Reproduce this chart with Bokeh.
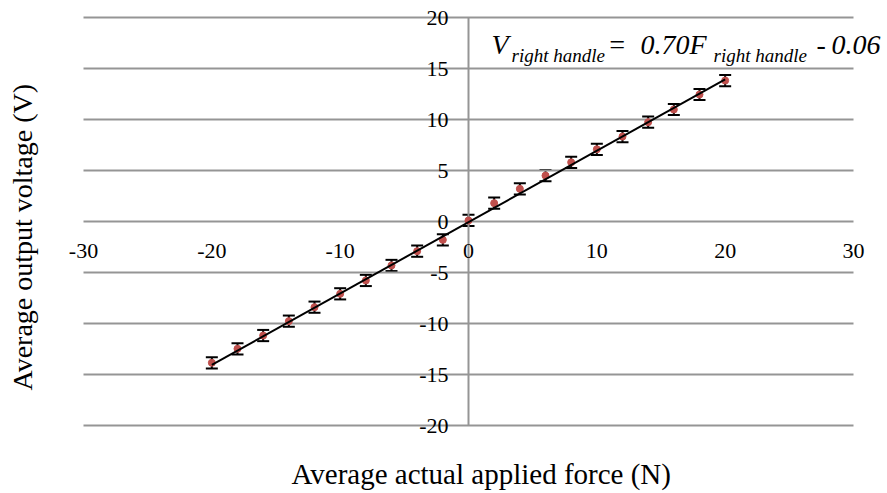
from bokeh.plotting import figure
from bokeh.models import (Range1d, ColumnDataSource, Whisker, TeeHead, Label)
from bokeh.core.properties import value
from bokeh.embed import file_html
from bokeh.resources import INLINE

# ---- data ----
forces = [-20, -18, -16, -14, -12, -10, -8, -6, -4, -2, 0,
          2, 4, 6, 8, 10, 12, 14, 16, 18, 20]
voltages = [-13.85, -12.48, -11.18, -9.77, -8.40, -7.09, -5.78, -4.31, -2.91, -1.80, 0.10,
            1.80, 3.20, 4.50, 5.80, 7.08, 8.33, 9.74, 10.98, 12.45, 13.82]
errors = [0.55, 0.55, 0.55, 0.55, 0.55, 0.55, 0.55, 0.55, 0.55, 0.55, 0.55,
          0.55, 0.55, 0.55, 0.55, 0.55, 0.55, 0.55, 0.55, 0.55, 0.55]
fit_slope = 0.70
fit_intercept = -0.06
fit_x = [-20, 20]
x_ticks = [-30, -20, -10, 0, 10, 20, 30]
x_tick_labels = ["-30", "-20", "-10", "0", "10", "20", "30"]
y_ticks = [-20, -15, -10, -5, 0, 5, 10, 15, 20]
y_tick_labels = ["-20", "-15", "-10", "-5", "0", "5", "10", "15", "20"]
x_title = "Average actual  applied force (N)"
y_title = "Average output voltage (V)"

FONT = "Liberation Serif"
GRID = "#959595"

W, H = 884, 492
X0, Y0 = 468.0, 221.0          # pixel position of the origin
SX, SY = 770.0 / 60.0, 10.2     # pixels per unit


def dx(px):
    return (px - X0) / SX


def dy(py):
    return (Y0 - py) / SY


p = figure(width=W, height=H, output_backend="svg", toolbar_location=None,
           x_range=Range1d(dx(0), dx(W)), y_range=Range1d(dy(H), dy(0)),
           x_axis_location=None, y_axis_location=None,
           min_border_left=0, min_border_right=0, min_border_top=0, min_border_bottom=0)
p.outline_line_color = None
p.background_fill_color = "white"
p.border_fill_color = "white"
p.xgrid.visible = False
p.ygrid.visible = False

# horizontal gridlines spanning the x extent of the chart
n_y = len(y_ticks)
p.segment(x0=[x_ticks[0]] * n_y, x1=[x_ticks[-1]] * n_y, y0=y_ticks, y1=y_ticks,
          line_color=GRID, line_width=2)
# vertical axis line at x = 0 spanning the y extent
p.segment(x0=[0], x1=[0], y0=[y_ticks[0]], y1=[y_ticks[-1]],
          line_color=GRID, line_width=2)

# tick labels
p.text(x=x_ticks, y=[0] * len(x_ticks), text=x_tick_labels,
       text_font=value(FONT), text_font_size="22px", text_color="black",
       text_align="center", text_baseline="middle", y_offset=29.5)
p.text(x=[0] * len(y_ticks), y=y_ticks, text=y_tick_labels,
       text_font=value(FONT), text_font_size="22px", text_color="black",
       text_align="right", text_baseline="middle", x_offset=-20)

src = ColumnDataSource(dict(
    x=forces, y=voltages,
    upper=[v + e for v, e in zip(voltages, errors)],
    lower=[v - e for v, e in zip(voltages, errors)],
))

p.scatter("x", "y", source=src, size=7, fill_color="#C0504D", line_color="#C0504D")

wh = Whisker(base="x", upper="upper", lower="lower", source=src,
             line_color="black", line_width=2,
             upper_head=TeeHead(size=12, line_color="black", line_width=2),
             lower_head=TeeHead(size=12, line_color="black", line_width=2))
p.add_layout(wh)

fit_y = [fit_slope * xv + fit_intercept for xv in fit_x]
ln = p.line(fit_x, fit_y, line_color="black", line_width=2)
ln.level = "overlay"

# axis titles (anchored at the vertical middle of the text)
p.add_layout(Label(x=dx(291), y=dy(473.5), text=x_title, text_font=FONT,
                   text_font_size="29px", text_color="black",
                   text_align="left", text_baseline="middle"))
p.add_layout(Label(x=dx(22), y=dy(390), text=y_title, text_font=FONT,
                   text_font_size="28px", text_color="black", angle=1.5708,
                   text_align="left", text_baseline="middle"))

# equation of the trend line (x, vertical middle, size)
pieces = [
    ("V", 491, 44.0, "28px"),
    ("right handle", 511, 55.4, "19px"),
    ("=", 607, 44.0, "28px"),
    ("0.70F", 640, 44.0, "28px"),
    ("right handle", 713, 55.4, "19px"),
    ("-", 816, 44.0, "28px"),
    ("0.06", 831, 44.0, "28px"),
]
for txt, px, py, fs in pieces:
    p.add_layout(Label(x=dx(px), y=dy(py), text=txt,
                       text_font=FONT, text_font_style="italic",
                       text_font_size=fs, text_color="black",
                       text_align="left", text_baseline="middle"))

open("out.html", "w").write(file_html(p, INLINE))
